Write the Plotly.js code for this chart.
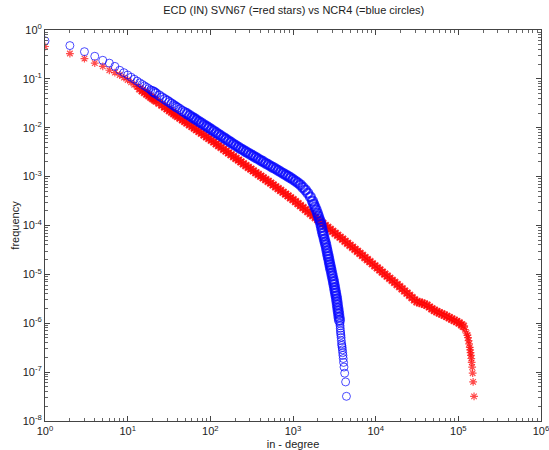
<!DOCTYPE html>
<html>
<head>
<meta charset="utf-8">
<script src="https://cdn.plot.ly/plotly-3.0.1.min.js"></script>
<style>html,body{margin:0;padding:0;background:#fff;}#chart{width:549px;height:450px;}</style>
</head>
<body>
<div id="chart"></div>
<script>
// SVN67 (red stars): in-degree and frequency
const redDegree = [
  1,2,3,4,5,6,7,8,9,10,
  11,12,13,14,15,16,17,18,19,
  20,21,22,24,26,28,30,32,34,36,38,40,
  43,46,49,52,56,60,64,68,73,78,84,90,96,
  103,110,118,126,135,145,155,166,
  178,191,204,219,234,251,269,288,309,
  331,355,380,407,436,468,501,
  537,575,617,661,708,759,813,871,933,
  1000,1072,1150,1230,1320,1413,1510,1622,1738,1862,1995,
  2138,2291,2455,2630,2818,3020,3236,3467,
  3715,3981,4266,4571,4898,5248,5623,6026,
  6457,6918,7413,7943,8511,9120,9772,10470,
  11220,12020,12880,13800,14790,15850,16980,18200,
  19500,20890,22390,23990,25700,27540,29510,
  31620,33880,36310,38900,41690,44670,47860,51290,54950,58880,63100,67610,72440,77620,83180,89130,95500,102300,109600,114800,120200,125900,
  129000,131000,133000,135000,137500,139000,140500,142000,143500,145000,147000,149000,151000,154900
];
const redFreq = [
  0.46,0.33,0.26,0.21,0.18,0.15,0.134,0.12,0.106,0.095,
  0.0847,0.0759,0.0685,0.0624,0.0571,0.0527,0.0489,0.0454,0.0424,
  0.0397,0.0374,0.0354,0.0318,0.0289,0.0264,0.0243,0.0225,0.0209,0.0195,0.0182,0.0171,
  0.0157,0.0145,0.0135,0.0125,0.0115,0.0106,0.0098,0.0091,0.00838,0.00773,0.00708,0.00653,0.00604,
  0.00555,0.00512,0.00468,0.00432,0.00396,0.00362,0.00333,0.00305,
  0.00281,0.00257,0.00237,0.00217,0.00200,0.00183,0.00168,0.00155,0.00142,
  0.00131,0.00120,0.00111,0.00102,0.000942,0.000869,0.000802,
  0.000737,0.000676,0.000620,0.000569,0.000521,0.000479,0.000439,0.000403,0.000369,
  0.000339,0.000308,0.000280,0.000255,0.000232,0.000211,0.000193,0.000175,0.000160,0.000145,0.000132,
  0.000120,0.000110,0.000100,9.12e-5,8.32e-5,7.59e-5,6.92e-5,6.31e-5,
  5.75e-5,5.24e-5,4.75e-5,4.32e-5,3.94e-5,3.58e-5,3.25e-5,2.96e-5,
  2.69e-5,2.44e-5,2.21e-5,2.00e-5,1.82e-5,1.65e-5,1.50e-5,1.36e-5,
  1.23e-5,1.11e-5,1.01e-5,9.17e-6,8.32e-6,7.54e-6,6.84e-6,6.20e-6,
  5.62e-6,5.07e-6,4.57e-6,4.12e-6,3.72e-6,3.35e-6,3.02e-6,
  2.75e-6,2.66e-6,2.57e-6,2.45e-6,2.34e-6,2.15e-6,1.97e-6,1.83e-6,1.73e-6,1.63e-6,1.55e-6,1.46e-6,1.38e-6,1.30e-6,1.22e-6,1.15e-6,1.08e-6,1.02e-6,9.3e-7,8.7e-7,7.4e-7,6.3e-7,
  5.7e-7,5.1e-7,4.4e-7,3.8e-7,3.2e-7,2.85e-7,2.5e-7,2.2e-7,1.9e-7,1.58e-7,1.27e-7,9.5e-8,6.3e-8,3.2e-8
];

// NCR4 (blue circles): in-degree and frequency
const blueDegree = [
  1,2,3,4,5,6,7,8,9,10,
  11,12,13,14,15,16,17,18,19,
  20,21,22,24,26,28,30,32,34,36,38,40,
  43,46,49,52,56,60,64,68,73,78,84,90,96,
  103,110,118,126,135,145,155,166,
  178,191,204,219,
  234,251,269,288,309,331,355,380,407,436,468,501,537,575,617,661,708,759,813,871,
  933,1000,1072,1150,
  1230,1320,1413,
  1510,1622,
  1718,1778,1841,1905,
  1972,2028,2084,2138,
  2178,2218,2259,2301,
  2344,2393,2443,2489,
  2541,2582,2624,2667,2710,2754,2793,
  2838,2884,2938,2985,3041,3090,
  3133,3184,3228,3273,3319,3365,
  3404,3443,3483,3524,3565,3606,3648,3690,
  3710,3730,3750,3770,3795,3820,3845,3875,3900,3930,3960,3990,4020,4050,4090,4140,4220,4330,4430
];
const blueFreq = [
  0.60,0.48,0.36,0.29,0.24,0.21,0.18,0.15,0.134,0.12,
  0.108,0.0984,0.0901,0.0830,0.0769,0.0718,0.0671,0.0630,0.0593,
  0.0561,0.0531,0.0505,0.0457,0.0418,0.0385,0.0356,0.0331,0.0310,0.0290,0.0273,0.0258,
  0.0238,0.0221,0.0207,0.0194,0.0179,0.0166,0.0155,0.0145,0.0134,0.0125,0.0115,0.0107,0.00998,
  0.00923,0.00859,0.00793,0.00736,0.00682,0.00630,0.00583,0.00540,
  0.00500,0.00463,0.00431,0.00400,
  0.00372,0.00348,0.00324,0.00304,0.00283,0.00265,0.00247,0.00231,0.00216,0.00202,0.00188,0.00176,0.00164,0.00154,0.00144,0.00134,0.00125,0.00117,0.00109,0.00102,
  0.000951,0.000877,0.000809,0.000745,
  0.000680,0.000600,0.000533,
  0.000459,0.000385,
  3.16e-4,2.75e-4,2.40e-4,2.09e-4,
  1.78e-4,1.55e-4,1.35e-4,1.20e-4,
  1.05e-4,9.1e-5,7.9e-5,6.9e-5,
  6.1e-5,5.25e-5,4.57e-5,4.03e-5,
  3.47e-5,3.02e-5,2.63e-5,2.32e-5,2.04e-5,1.78e-5,1.58e-5,
  1.39e-5,1.23e-5,1.06e-5,9.3e-6,8.05e-6,7.08e-6,
  6.21e-6,5.37e-6,4.68e-6,4.12e-6,3.63e-6,3.16e-6,
  2.75e-6,2.37e-6,2.04e-6,1.78e-6,1.55e-6,1.33e-6,1.15e-6,1.0e-6,
  8.9e-7,7.9e-7,7.0e-7,6.3e-7,5.7e-7,5.1e-7,4.4e-7,3.8e-7,3.5e-7,3.2e-7,2.85e-7,2.5e-7,2.2e-7,1.9e-7,1.58e-7,1.27e-7,9.5e-8,6.3e-8,3.2e-8
];

const xTickVals = [1,10,100,1000,10000,100000,1000000];
const xTickText = ['10<sup>0</sup>','10<sup>1</sup>','10<sup>2</sup>','10<sup>3</sup>','10<sup>4</sup>','10<sup>5</sup>','10<sup>6</sup>'];
const yTickVals = [1e-8,1e-7,1e-6,1e-5,1e-4,1e-3,1e-2,1e-1,1];
const yTickText = ['10<sup>-8</sup>','10<sup>-7</sup>','10<sup>-6</sup>','10<sup>-5</sup>','10<sup>-4</sup>','10<sup>-3</sup>','10<sup>-2</sup>','10<sup>-1</sup>','10<sup>0</sup>'];

const titleText = 'ECD (IN) SVN67 (=red stars) vs NCR4 (=blue circles)';
const xTitle = 'in - degree';
const yTitle = 'frequency';

// style rule: where markers crowd together the band looks solid in the original
const redWidth = redDegree.map(d => (d >= 14 && d <= 120000) ? 2 : 1.2);
const redSize = redDegree.map(d => (d >= 14 && d <= 120000) ? 8 : 6.5);
const blueWidth = blueDegree.map((d, i) => blueFreq[i] <= 1e-6 ? 1 : (d >= 50 ? 2.2 : (d >= 20 ? 1.5 : 1)));
const blueSize = blueDegree.map((d, i) => blueFreq[i] <= 1e-6 ? 8 : (d >= 20 ? 9 : 8));

const traces = [
  {
    x: redDegree, y: redFreq, type: 'scatter', mode: 'markers', name: 'SVN67',
    marker: {symbol: 'asterisk-open', size: redSize, color: '#ff0000', line: {color: '#ff0000', width: redWidth}}
  },
  {
    x: blueDegree, y: blueFreq, type: 'scatter', mode: 'markers', name: 'NCR4',
    marker: {symbol: 'circle-open', size: blueSize, color: '#0000ff', line: {color: '#0000ff', width: blueWidth}}
  }
];

const axisCommon = {
  type: 'log', showgrid: false, zeroline: false,
  showline: true, linecolor: '#444', linewidth: 1, mirror: 'ticks',
  ticks: 'inside', ticklen: 5, tickcolor: '#444', tickwidth: 1,
  tickfont: {family: 'Liberation Sans, Arial, sans-serif', size: 11, color: '#222'},
  tickmode: 'array', ticklabeloverflow: 'allow',
  minor: {ticks: 'inside', ticklen: 3, tickcolor: '#666', dtick: 'D1', showgrid: false}
};

const layout = {
  width: 549, height: 450,
  margin: {l: 45, r: 8, t: 30, b: 29},
  paper_bgcolor: '#fff', plot_bgcolor: '#fff',
  showlegend: false,
  font: {family: 'Liberation Sans, Arial, sans-serif', size: 11, color: '#222'},
  title: {text: titleText, x: 0.535, xanchor: 'center', y: 0.978, yref: 'container', yanchor: 'middle',
          font: {family: 'Liberation Sans, Arial, sans-serif', size: 11, color: '#222'}},
  xaxis: Object.assign({}, axisCommon, {
    range: [0, 6], tickvals: xTickVals, ticktext: xTickText,
    title: {text: xTitle, standoff: 4, font: {size: 11, color: '#222'}}
  }),
  yaxis: Object.assign({}, axisCommon, {
    range: [-8, 0], tickvals: yTickVals, ticktext: yTickText,
    title: {text: yTitle, standoff: 0, font: {size: 11, color: '#222'}}
  })
};

Plotly.newPlot('chart', traces, layout, {displayModeBar: false, staticPlot: true});
</script>
</body>
</html>
